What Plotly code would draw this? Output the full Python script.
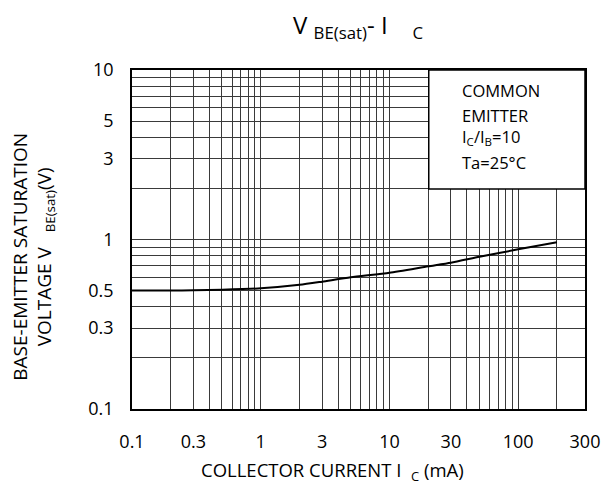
import plotly.graph_objects as go
import numpy as np

# Data
ic_ma = [0.1, 0.2, 0.3, 0.5, 1, 2, 3, 5, 10, 20, 30, 50, 100, 200]
vbe_sat = [0.50, 0.50, 0.502, 0.506, 0.515, 0.54, 0.564, 0.598, 0.637, 0.695, 0.73, 0.79, 0.875, 0.963]

x_tick_vals = [0.1, 0.3, 1, 3, 10, 30, 100, 10 ** 2.519]
x_tick_text = ["0.1", "0.3", "1", "3", "10", "30", "100", "300"]
y_tick_vals = [0.1, 0.3, 0.5, 1, 3, 5, 10]
y_tick_text = ["0.1", "0.3", "0.5", "1", "3", "5", "10"]

x_grid = [m * 10.0 ** e for e in (-1, 0, 1, 2) for m in range(1, 10) if m * 10.0 ** e <= 200]
y_grid = [m * 10.0 ** e for e in (-1, 0) for m in range(1, 10)] + [10]

FONT = "Open Sans"
W, H = 612, 490
L, R, T, B = 132, 19, 70, 81

fig = go.Figure()
fig.add_trace(go.Scatter(x=ic_ma, y=vbe_sat, mode="lines",
                         line=dict(color="black", width=2, shape="spline", smoothing=0.6),
                         hoverinfo="skip", showlegend=False))

grid_col = "#3a3a3a"
fig.update_xaxes(type="log", range=[-1, 2.519],
                 tickmode="array", tickvals=x_tick_vals, ticktext=x_tick_text,
                 showgrid=True, gridcolor=grid_col, gridwidth=1,
                 minor=dict(tickmode="array", tickvals=x_grid, showgrid=True,
                            gridcolor=grid_col, gridwidth=1, ticks=""),
                 showline=True, linecolor="black", linewidth=1.5, mirror=True,
                 ticks="", ticklabelstandoff=16, zeroline=False,
                 tickfont=dict(family=FONT, size=18, color="black"))
fig.update_yaxes(type="log", range=[-1, 1],
                 tickmode="array", tickvals=y_tick_vals, ticktext=y_tick_text,
                 showgrid=True, gridcolor=grid_col, gridwidth=1,
                 minor=dict(tickmode="array", tickvals=y_grid, showgrid=True,
                            gridcolor=grid_col, gridwidth=1, ticks=""),
                 showline=True, linecolor="black", linewidth=1.5, mirror=True,
                 ticks="", ticklabelstandoff=13, zeroline=False,
                 tickfont=dict(family=FONT, size=18, color="black"))

pw = W - L - R
ph = H - T - B
def px_x(p):
    return (p - L) / pw
def px_y(p):
    return (H - B - p) / ph

# legend box covering upper-right grid
fig.add_shape(type="rect", xref="paper", yref="paper",
              x0=px_x(434), x1=1, y0=px_y(189), y1=1,
              fillcolor="white", line=dict(color="black", width=1.5), layer="above")

notes = ["COMMON", "EMITTER", "I<sub>C</sub>/I<sub>B</sub>=10", "Ta=25°C"]
note_y = [90, 115, 137, 162]
for t, yy in zip(notes, note_y):
    fig.add_annotation(text=t, xref="paper", yref="paper", x=px_x(466), y=px_y(yy),
                       xanchor="left", yanchor="middle", showarrow=False,
                       font=dict(family=FONT, size=16.5, color="black"))

# title
fig.add_annotation(text="V\u00a0<sub>BE(sat)</sub>-\u00a0I\u00a0\u00a0\u00a0\u00a0<sub>C</sub>",
                   xref="paper", yref="paper", x=px_x(294), y=px_y(6),
                   xanchor="left", yanchor="top", showarrow=False,
                   font=dict(family=FONT, size=24, color="black"))

# x title
fig.add_annotation(text="COLLECTOR CURRENT I\u00a0\u00a0<sub>C</sub>\u00a0(mA)",
                   xref="paper", yref="paper", x=px_x(336), y=px_y(471),
                   xanchor="center", yanchor="middle", showarrow=False,
                   font=dict(family=FONT, size=18.5, color="black"))

# y title
fig.add_annotation(text="BASE-EMITTER SATURATION<br>VOLTAGE V\u00a0\u00a0\u00a0<sub>BE(sat)</sub>(V)",
                   xref="paper", yref="paper", x=px_x(31), y=px_y(257),
                   xanchor="center", yanchor="middle", showarrow=False, textangle=-90,
                   font=dict(family=FONT, size=19, color="black"))

fig.update_layout(width=W, height=H, margin=dict(l=L, r=R, t=T, b=B),
                  paper_bgcolor="white", plot_bgcolor="white",
                  font=dict(family=FONT, color="black"), showlegend=False)

fig.write_html("out.html")
